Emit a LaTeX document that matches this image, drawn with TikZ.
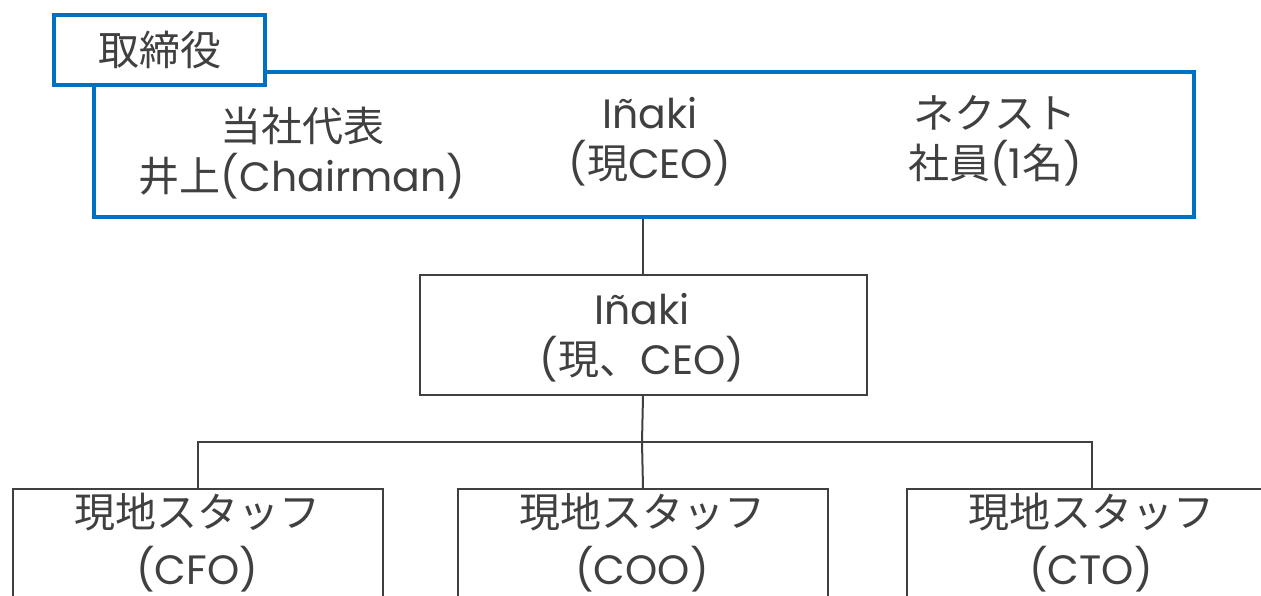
\documentclass[tikz,border=0pt]{standalone}
\usepackage{fontspec}
\setmainfont{Poppins}
\newfontfamily\jp{Noto Sans CJK JP}
\definecolor{tblue}{HTML}{0070C0}
\definecolor{tgray}{HTML}{404040}
\tikzset{
  bluebox/.style={draw=tblue, line width=4pt, fill=white, inner sep=0pt, rectangle},
  graybox/.style={draw=tgray, line width=2pt, fill=white, inner sep=0pt, rectangle},
  txt/.style={align=center, inner sep=0pt, text=tgray},
  conn/.style={draw=tgray, line width=2pt},
}
\begin{document}
\begin{tikzpicture}[x=1pt,y=-1pt,font=\fontsize{41}{50}\selectfont]
\useasboundingbox (0,0) rectangle (1261,596);
\clip (0,0) rectangle (1261,596);
% board
\node[bluebox, minimum width=1100pt, minimum height=145pt, anchor=north west] (board) at (92,70) {};
\node[bluebox, minimum width=211pt, minimum height=70pt, anchor=north west] (tag) at (52,13) {};
\node[txt] (tagt) at (tag.center) {\jp 取締役};
\node[txt] (t1) at (302,153) {{\jp 当社代表}\\{\jp 井上}(Chairman)};
\node[txt] (t2) at (650,142) {Iñaki\\({\jp 現}CEO)};
\node[txt] (t3) at (995,141) {{\jp ネクスト}\\{\jp 社員}(1{\jp 名})};
% ceo
\node[graybox, minimum width=447pt, minimum height=120pt, anchor=north west] (mid) at (418.5,274) {};
\node[txt] (midt) at (642,338) {Iñaki\\({\jp 現、}CEO)};
% staff
\node[graybox, minimum width=370pt, minimum height=160pt, anchor=north west] (b1) at (12,488) {};
\node[graybox, minimum width=370pt, minimum height=160pt, anchor=north west] (b2) at (457,488) {};
\node[graybox, minimum width=370pt, minimum height=160pt, anchor=north west] (b3) at (906,488) {};
\begin{scope}[font=\fontsize{41}{57}\selectfont]
\node[txt] (s1) at (197,543) {{\jp 現地スタッフ}\\(CFO)};
\node[txt] (s2) at (642,543) {{\jp 現地スタッフ}\\(COO)};
\node[txt] (s3) at (1091,543) {{\jp 現地スタッフ}\\(CTO)};
\end{scope}
% connectors
\coordinate (bus) at (642,442);
\draw[conn] (board.south -| mid.north) -- (mid.north);
\draw[conn] (mid.south) -- (bus);
\draw[conn] (b1.north) |- (bus) -| (b3.north);
\draw[conn] (bus) -- (b2.north);
\end{tikzpicture}
\end{document}
